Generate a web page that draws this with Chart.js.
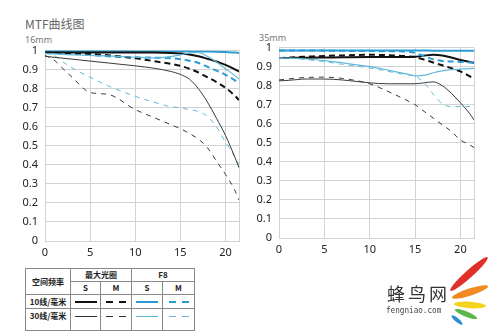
<!DOCTYPE html>
<html>
<head>
<meta charset="utf-8">
<script src="https://cdn.jsdelivr.net/npm/chart.js@4.4.0/dist/chart.umd.min.js"></script>
<style>
  body { margin:0; width:500px; height:333px; background:#fff; position:relative; overflow:hidden; font-family:"Noto Sans","Noto Sans CJK SC",sans-serif; }
  .abs { position:absolute; }
  #title { left:25px; top:15px; font-size:12px; color:#666; font-family:"Noto Sans CJK SC",sans-serif; }
  .focal { font-size:9px; color:#777; }
  #legendTable { left:25px; top:268px; border-collapse:collapse; font-family:"Noto Sans CJK SC",serif; font-size:8px; font-weight:bold; color:#222; }
  #legendTable td { border:1px solid #888; text-align:center; padding:0; line-height:10px; }
  .ln { margin:0 auto; width:22px; }
  .solid2 { height:2px; background:#111; }
  .solid1 { height:1px; background:#333; }
  .dash2 { height:2px; width:20px; background:repeating-linear-gradient(90deg,#111 0 7px,transparent 7px 13px); }
  .dash1 { height:1px; width:20px; background:repeating-linear-gradient(90deg,#333 0 7px,transparent 7px 13px); }
</style>
</head>
<body>
<div id="title" class="abs">MTF曲线图</div>
<div class="abs focal" style="left:25px;top:33px;">16mm</div>
<div class="abs focal" style="left:259px;top:31px;">35mm</div>

<div class="abs" style="left:0;top:37px;width:244px;height:227px;"><canvas id="chart16"></canvas></div>
<div class="abs" style="left:234px;top:34px;width:245px;height:227px;"><canvas id="chart35"></canvas></div>

<table id="legendTable" class="abs">
  <tr><td rowspan="2" style="width:44px;">空间频率</td><td colspan="2" style="height:12px;">最大光圈</td><td colspan="2">F8</td></tr>
  <tr><td style="width:29px;height:12px;">S</td><td style="width:30px;">M</td><td style="width:30px;">S</td><td style="width:31px;">M</td></tr>
  <tr><td style="height:13px;">10线/毫米</td>
    <td><div class="ln solid2"></div></td>
    <td><div class="ln dash2"></div></td>
    <td><div class="ln solid2" style="background:#2a9cd3;"></div></td>
    <td><div class="ln dash2" style="background:repeating-linear-gradient(90deg,#2a9cd3 0 7px,transparent 7px 13px);"></div></td></tr>
  <tr><td style="height:19px;vertical-align:top;padding-top:2px;">30线/毫米</td>
    <td style="vertical-align:top;padding-top:7px;"><div class="ln solid1"></div></td>
    <td style="vertical-align:top;padding-top:7px;"><div class="ln dash1"></div></td>
    <td style="vertical-align:top;padding-top:7px;"><div class="ln solid1" style="background:#5fb8d8;"></div></td>
    <td style="vertical-align:top;padding-top:7px;"><div class="ln dash1" style="background:repeating-linear-gradient(90deg,#5fb8d8 0 7px,transparent 7px 13px);"></div></td></tr>
</table>

<!-- logo -->
<div class="abs" style="left:387px;top:280px;font-size:18px;color:#333;letter-spacing:3px;font-family:'Noto Sans CJK SC',sans-serif;">蜂鸟网</div>
<div class="abs" style="left:386px;top:305px;font-size:9px;color:#444;font-family:'DejaVu Sans Mono',monospace;transform:scaleX(0.85);transform-origin:left;">fengniao.com</div>
<svg class="abs" style="left:440px;top:250px;" width="60" height="80">
  <ellipse cx="29" cy="24" rx="25" ry="3.8" fill="#e0302a" transform="rotate(-42 29 24)"/>
  <ellipse cx="30" cy="42" rx="19" ry="3.6" fill="#f08a24" transform="rotate(-18 30 42)"/>
  <ellipse cx="30" cy="55" rx="16" ry="3.2" fill="#f3d31c" transform="rotate(4 30 55)"/>
  <ellipse cx="26" cy="64" rx="12" ry="2.6" fill="#5cb84a" transform="rotate(22 26 64)"/>
  <ellipse cx="17" cy="70" rx="7" ry="2" fill="#2b8fd0" transform="rotate(40 17 70)"/>
</svg>

<script>
// posiciones de imagen (mm desde el centro)
const xs = [0, 1, 2, 3, 5, 7, 10, 12, 14, 15, 16, 17, 18, 19, 20, 21, 21.5];
const xTicks = [0, 5, 10, 15, 20];
const yTicks = [0, 0.1, 0.2, 0.3, 0.4, 0.5, 0.6, 0.7, 0.8, 0.9, 1];

// 16mm
const s10max16 = [0.99, 0.99, 0.99, 0.99, 0.99, 0.99, 0.99, 0.99, 0.988, 0.985, 0.98, 0.97, 0.957, 0.943, 0.925, 0.903, 0.89];
const m10max16 = [0.99, 0.99, 0.988, 0.986, 0.982, 0.975, 0.96, 0.945, 0.93, 0.92, 0.905, 0.885, 0.86, 0.835, 0.805, 0.765, 0.74];
const s10f816  = [0.998, 0.998, 0.998, 0.998, 0.998, 0.998, 0.997, 0.997, 0.997, 0.997, 0.996, 0.995, 0.995, 0.994, 0.992, 0.99, 0.988];
const m10f816  = [0.99, 0.99, 0.988, 0.985, 0.978, 0.97, 0.965, 0.963, 0.96, 0.955, 0.947, 0.935, 0.915, 0.895, 0.873, 0.845, 0.825];
const s30max16 = [0.97, 0.965, 0.96, 0.955, 0.945, 0.935, 0.92, 0.908, 0.89, 0.875, 0.85, 0.8, 0.73, 0.645, 0.555, 0.445, 0.385];
const m30max16 = [0.975, 0.95, 0.905, 0.86, 0.78, 0.77, 0.69, 0.65, 0.61, 0.59, 0.565, 0.535, 0.49, 0.42, 0.35, 0.27, 0.215];
const s30f816  = [0.985, 0.983, 0.98, 0.978, 0.975, 0.972, 0.965, 0.962, 0.97, 0.978, 0.988, 0.99, 0.97, 0.94, 0.905, 0.87, 0.85];
const m30f816  = [0.985, 0.975, 0.94, 0.91, 0.86, 0.815, 0.76, 0.73, 0.705, 0.7, 0.69, 0.68, 0.655, 0.6, 0.52, 0.445, 0.4];

// 35mm
const s10max35 = [0.945, 0.946, 0.947, 0.947, 0.948, 0.949, 0.95, 0.95, 0.95, 0.952, 0.958, 0.962, 0.958, 0.948, 0.935, 0.925, 0.92];
const m10max35 = [0.945, 0.947, 0.95, 0.952, 0.956, 0.959, 0.962, 0.96, 0.955, 0.95, 0.937, 0.922, 0.907, 0.892, 0.875, 0.85, 0.835];
const s10f835  = [0.985, 0.985, 0.985, 0.985, 0.985, 0.985, 0.985, 0.985, 0.985, 0.985, 0.985, 0.984, 0.984, 0.984, 0.984, 0.983, 0.983];
const m10f835  = [0.985, 0.985, 0.985, 0.985, 0.984, 0.983, 0.982, 0.981, 0.98, 0.972, 0.955, 0.938, 0.93, 0.927, 0.925, 0.922, 0.92];
const s30max35 = [0.825, 0.828, 0.832, 0.835, 0.835, 0.83, 0.815, 0.81, 0.81, 0.81, 0.815, 0.82, 0.8, 0.76, 0.71, 0.655, 0.62];
const m30max35 = [0.83, 0.835, 0.84, 0.843, 0.845, 0.838, 0.81, 0.77, 0.725, 0.7, 0.665, 0.63, 0.595, 0.56, 0.515, 0.49, 0.475];
const s30f835  = [0.945, 0.945, 0.943, 0.94, 0.932, 0.92, 0.9, 0.882, 0.862, 0.852, 0.855, 0.868, 0.878, 0.884, 0.887, 0.89, 0.891];
const m30f835  = [0.945, 0.944, 0.942, 0.937, 0.926, 0.912, 0.893, 0.875, 0.858, 0.85, 0.815, 0.755, 0.705, 0.69, 0.69, 0.69, 0.69];

// estilos de linea
const BLACK = '#111', GRAY = '#3a3a3a', BLUE = '#2a9cd3', LBLUE = '#62b9d9';

function ds(label, vals, color, width, dash) {
    return {
        label: label,
        data: xs.map((x, i) => ({ x: x, y: vals[i] })),
        borderColor: color,
        borderWidth: width,
        borderDash: dash,
        pointRadius: 0,
        fill: false,
        cubicInterpolationMode: 'monotone'
    };
}

function makeChart(id, set) {
    const ctx = document.getElementById(id).getContext('2d');
    return new Chart(ctx, {
        type: 'line',
        data: {
            datasets: [
                ds('30 M max', set[5], GRAY, 1, [5, 5]),
                ds('30 S max', set[4], GRAY, 1, []),
                ds('30 M F8', set[7], LBLUE, 1, [5, 5]),
                ds('30 S F8', set[6], LBLUE, 1.2, []),
                ds('10 M max', set[1], BLACK, 2, [6, 4]),
                ds('10 M F8', set[3], BLUE, 2, [6, 4]),
                ds('10 S max', set[0], BLACK, 2, []),
                ds('10 S F8', set[2], BLUE, 2, [])
            ]
        },
        options: {
            responsive: true,
            maintainAspectRatio: false,
            animation: false,
            layout: { padding: { left: 0, top: 5, right: 5, bottom: 0 } },
            plugins: { legend: { display: false }, tooltip: { enabled: false } },
            scales: {
                x: {
                    type: 'linear',
                    min: 0,
                    max: 21.5,
                    afterBuildTicks: s => { s.ticks = xTicks.concat([21.5]).map(v => ({ value: v })); },
                    afterFit: s => { s.height = 23; },
                    ticks: {
                        callback: v => xTicks.includes(v) ? String(v) : '',
                        color: '#222',
                        font: { size: 11, family: 'Noto Sans' },
                        padding: 5,
                        maxRotation: 0
                    },
                    grid: { color: '#d2d2d2', drawTicks: false },
                    border: { color: '#d2d2d2' }
                },
                y: {
                    min: 0,
                    max: 1,
                    afterBuildTicks: s => { s.ticks = yTicks.map(v => ({ value: v })); },
                    afterFit: s => { s.width = 45; },
                    ticks: {
                        callback: v => String(+v.toFixed(1)),
                        color: '#222',
                        font: { size: 11, family: 'Noto Sans' },
                        padding: 7
                    },
                    grid: { color: '#d2d2d2', drawTicks: false },
                    border: { color: '#d2d2d2' }
                }
            }
        }
    });
}

makeChart('chart16', [s10max16, m10max16, s10f816, m10f816, s30max16, m30max16, s30f816, m30f816]);
makeChart('chart35', [s10max35, m10max35, s10f835, m10f835, s30max35, m30max35, s30f835, m30f835]);
</script>
</body>
</html>
